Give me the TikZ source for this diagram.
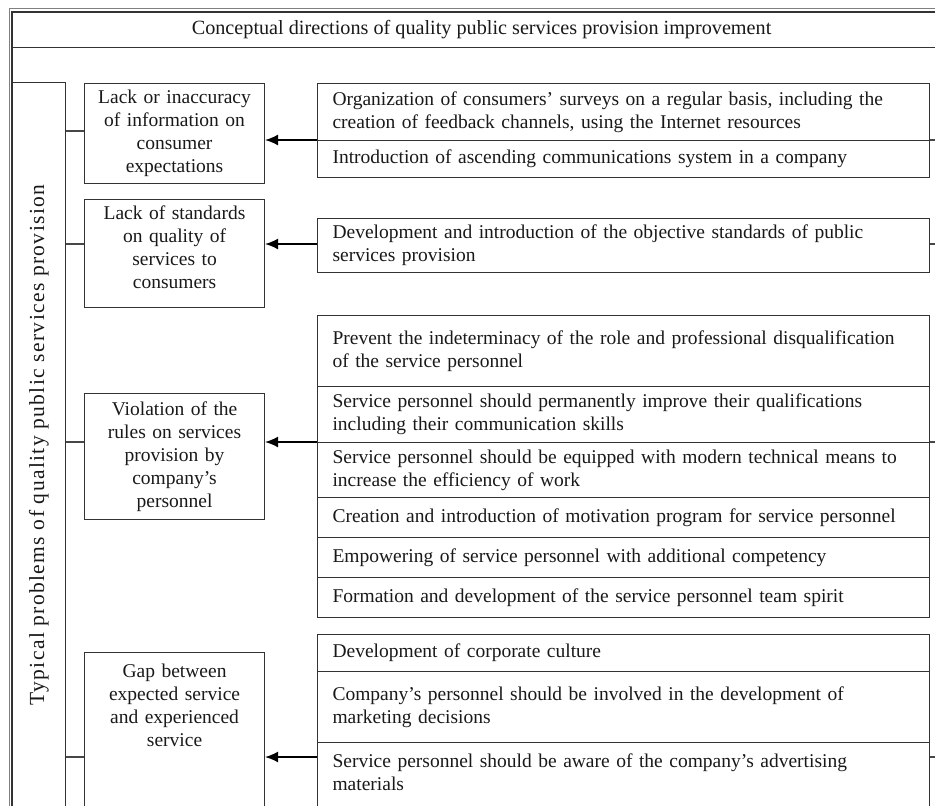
\documentclass[tikz,border=0pt]{standalone}
\usepackage{fontspec}
\setmainfont{Liberation Serif}
\usetikzlibrary{arrows.meta,calc}
\newcommand\myfs{\fontsize{19.5}{23}\selectfont}
\begin{document}
\begin{tikzpicture}[x=1pt,y=-1pt,
  boxline/.style={draw=black!80, line width=1.1pt},
  cell/.style={boxline, anchor=north west, minimum width=612pt, text width=582pt,
     inner xsep=15pt, inner ysep=0pt, align=left, font=\myfs, text=black!90},
  prob/.style={boxline, anchor=north west, minimum width=180pt, text width=172pt,
     inner xsep=4pt, inner ysep=0pt, align=center, font=\myfs, text=black!90},
  arr/.style={draw=black, line width=1.5pt, -{Latex[length=13pt,width=11pt]}},
  link/.style={draw=black!72, line width=1.1pt},
  frame/.style={draw=black!50, line width=1.1pt}
]
\useasboundingbox (0,0) rectangle (935,806);
\clip (0,0) rectangle (935,806);

% outer double frame
\draw[frame] (9.5,860) |- (980,8.5);
\draw[boxline] (12,860) |- (980,11.5);

% title
\node[boxline, anchor=north west, minimum width=938pt, minimum height=35pt, inner sep=0pt,
  font=\fontsize{20.2}{24}\selectfont, text=black!90] (title) at (12,11.5)
  {Conceptual directions of quality public services provision improvement};

% vertical box
\node[boxline, anchor=north west, minimum width=53pt, minimum height=780pt, inner sep=0pt] (vb) at (12,82) {};
\node[rotate=90, font=\fontsize{21.5}{24}\selectfont\addfontfeatures{LetterSpace=6.3}, text=black!90] (vbt) at (39,445)
  {Typical problems of quality public services provision};

% problem boxes
\node[prob, minimum height=100pt] (p1) at (84,83)
  {Lack or inaccuracy\\ of information on\\ consumer\\ expectations};
\node[prob, text height=19.5pt, text depth=88.5pt] (p2) at (84,199)
  {Lack of standards\\ on quality of\\ services to\\ consumers};
\node[prob, minimum height=126pt] (p3) at (84,393)
  {Violation of the\\ rules on services\\ provision by\\ company’s\\ personnel};
\node[prob, text height=24.5pt, text depth=150pt] (p4) at (84,652)
  {Gap between\\ expected service\\ and experienced\\ service};

% right cells, group 1
\node[cell, minimum height=57pt] (r1a) at (317,83)
  {Organization of consumers’ surveys on a regular basis, including the\\ creation of feedback channels, using the Internet resources};
\node[cell, minimum height=37pt] (r1b) at (317,140)
  {Introduction of ascending communications system in a company};
% group 2
\node[cell, minimum height=54pt] (r2) at (317,218)
  {Development and introduction of the objective standards of public\\ services provision};
% group 3
\node[cell, minimum height=71pt] (r3a) at (317,315)
  {Prevent the indeterminacy of the role and professional disqualification\\ of the service personnel};
\node[cell, minimum height=56pt] (r3b) at (317,386)
  {Service personnel should permanently improve their qualifications\\ including their communication skills};
\node[cell, minimum height=55pt] (r3c) at (317,442)
  {Service personnel should be equipped with modern technical means to\\ increase the efficiency of work};
\node[cell, minimum height=40pt] (r3d) at (317,497)
  {Creation and introduction of motivation program for service personnel};
\node[cell, minimum height=40pt] (r3e) at (317,537)
  {Empowering of service personnel with additional competency};
\node[cell, minimum height=40pt] (r3f) at (317,577)
  {Formation and development of the service personnel team spirit};
% group 4
\node[cell, minimum height=37pt] (r4a) at (317,634)
  {Development of corporate culture};
\node[cell, minimum height=71pt] (r4b) at (317,671)
  {Company’s personnel should be involved in the development of\\ marketing decisions};
\node[cell, text height=24.5pt, text depth=120pt] (r4c) at (317,742)
  {Service personnel should be aware of the company’s advertising\\ materials};

% connector levels
\coordinate (l1) at (0,131);
\coordinate (l2) at (0,244);
\coordinate (l3) at (0,442);
\coordinate (l4) at (0,757);
\coordinate (a1) at (0,140);
\coordinate (a2) at (0,244);
\coordinate (a3) at (0,442);
\coordinate (a4) at (0,757);

% left links
\draw[link] (vb.east |- l1) -- (p1.west |- l1);
\draw[link] (vb.east |- l2) -- (p2.west |- l2);
\draw[link] (vb.east |- l3) -- (p3.west |- l3);
\draw[link] (vb.east |- l4) -- (p4.west |- l4);

% arrows
\draw[arr] (r1a.west |- a1) -- (p1.east |- a1);
\draw[arr] (r2.west |- a2) -- (p2.east |- a2);
\draw[arr] (r3c.west |- a3) -- (p3.east |- a3);
\draw[arr] (r4c.west |- a4) -- (p4.east |- a4);

% right ticks
\draw[link] (r1a.east |- a1) -- ++(20,0);
\draw[link] (r2.east |- a2) -- ++(20,0);
\draw[link] (r3c.east |- a3) -- ++(20,0);
\draw[link] (r4c.east |- a4) -- ++(20,0);
\end{tikzpicture}
\end{document}
